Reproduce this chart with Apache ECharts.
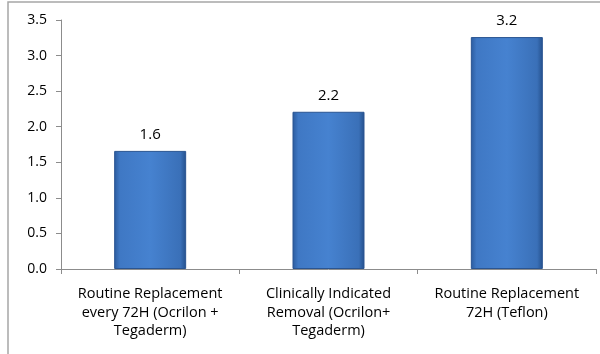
<!DOCTYPE html>
<html><head><meta charset="utf-8">
<script src="https://cdn.jsdelivr.net/npm/echarts@6/dist/echarts.min.js"></script>
<style>html,body{margin:0;padding:0;background:#fff}#c{width:600px;height:354px}</style>
</head><body><div id="c"></div>
<script>
const categories = ["Routine Replacement\nevery 72H (Ocrilon +\nTegaderm)", "Clinically Indicated\nRemoval (Ocrilon+\nTegaderm)", "Routine Replacement\n72H (Teflon)"];
const values = [1.66, 2.21, 3.26];
const valueLabels = ["1.6", "2.2", "3.2"];
const yTicks = [0, 0.5, 1, 1.5, 2, 2.5, 3, 3.5];

const chart = echarts.init(document.getElementById('c'), null, {renderer: 'canvas'});
const font = "Open Sans";
chart.setOption({
  animation: false,
  textStyle: {fontFamily: font},
  graphic: [{type: 'rect', shape: {x: 8, y: 2, width: 600, height: 400}, style: {fill: 'none', stroke: '#a6a6a6', lineWidth: 1.5}, z: -1}],
  grid: {left: 61, right: 4, top: 20, bottom: 85},
  xAxis: {
    type: 'category', data: categories,
    axisLine: {lineStyle: {color: '#8c8c8c'}},
    axisTick: {show: true, alignWithLabel: false, length: 5, lineStyle: {color: '#8c8c8c'}},
    axisLabel: {color: '#000', fontSize: 14.5, lineHeight: 18.5, margin: 16, fontFamily: font, interval: 0}
  },
  yAxis: {
    type: 'value', min: 0, max: 3.5, interval: 0.5,
    axisLine: {show: true, lineStyle: {color: '#8c8c8c'}},
    axisTick: {show: true, length: 5, lineStyle: {color: '#8c8c8c'}},
    splitLine: {show: false},
    axisLabel: {color: '#000', fontSize: 14, margin: 14, fontFamily: font, formatter: v => v.toFixed(1)}
  },
  series: [{
    type: 'bar', data: values, barWidth: 72,
    itemStyle: {
      color: new echarts.graphic.LinearGradient(0, 0, 1, 0, [
        {offset: 0, color: '#2b5b9e'}, {offset: 0.08, color: '#3f78c4'},
        {offset: 0.5, color: '#4682d0'}, {offset: 0.92, color: '#3a70b8'}, {offset: 1, color: '#24508c'}
      ]),
      borderColor: '#2a5592', borderWidth: 1
    },
    label: {show: true, position: 'top', distance: 9, color: '#000', fontSize: 15, fontFamily: font,
      formatter: p => valueLabels[p.dataIndex]}
  }]
});
</script></body></html>
